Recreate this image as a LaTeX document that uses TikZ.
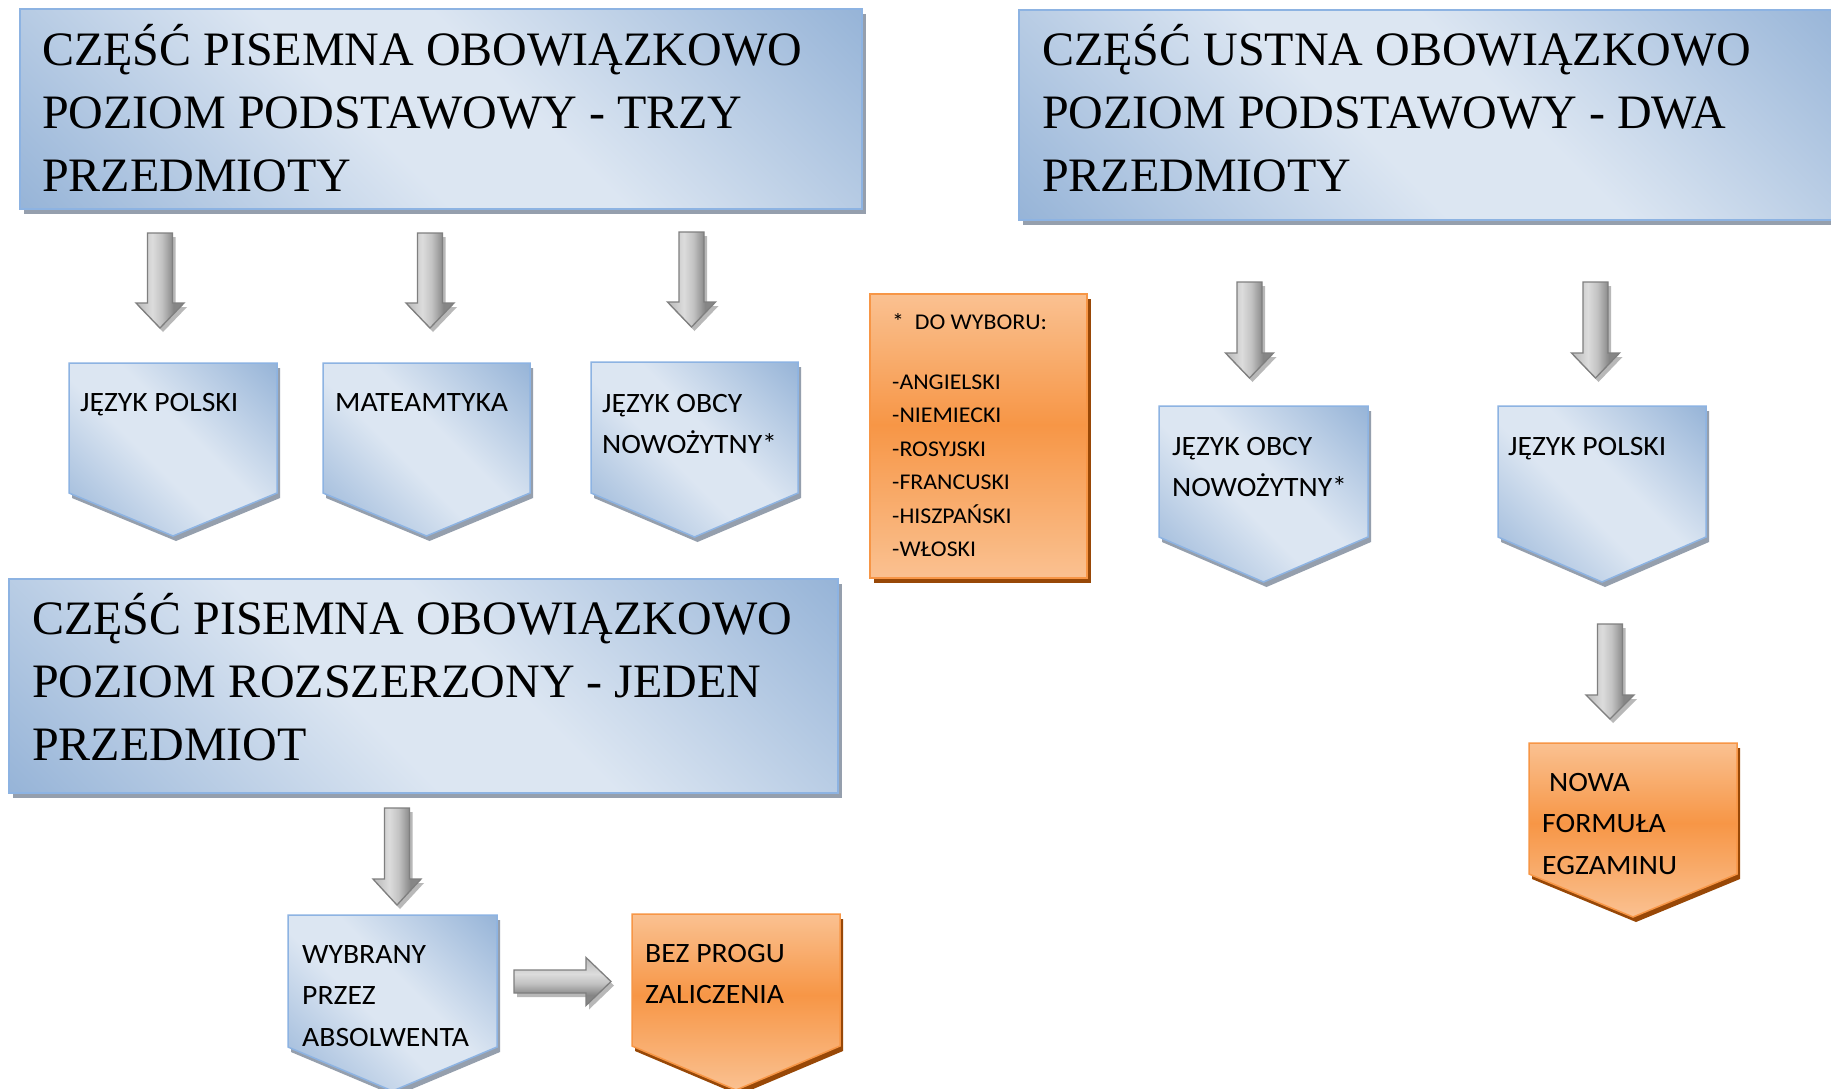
\documentclass[tikz,border=0pt]{standalone}
\usepackage{fontspec}
\newfontfamily\serifT{Liberation Serif}
\newfontfamily\sansT[FakeStretch=1.06]{Carlito}
\definecolor{bluedk}{HTML}{95B3D7}
\definecolor{bluelt}{HTML}{DCE6F2}
\definecolor{blueline}{HTML}{8DB3E2}
\definecolor{blueshade}{HTML}{959FAD}
\definecolor{orlt}{HTML}{FAC191}
\definecolor{ordk}{HTML}{F79646}
\definecolor{orline}{HTML}{F79646}
\definecolor{orshade}{HTML}{984807}
\definecolor{grlt}{HTML}{DCDCDC}
\definecolor{grmd}{HTML}{C2C2C2}
\definecolor{grdk}{HTML}{868686}
\definecolor{grline}{HTML}{7F7F7F}
\definecolor{grshade}{HTML}{B8B8B8}
\pgfdeclarehorizontalshading{bluediag}{100bp}{color(0bp)=(bluedk); color(14bp)=(bluedk); color(44bp)=(bluelt); color(56bp)=(bluelt); color(86bp)=(bluedk); color(100bp)=(bluedk)}
\pgfdeclareverticalshading{orangev}{100bp}{color(0bp)=(orlt); color(25bp)=(orlt); color(52bp)=(ordk); color(75bp)=(orlt); color(100bp)=(orlt)}
\pgfdeclarehorizontalshading{grayh}{100bp}{color(0bp)=(grmd); color(30bp)=(grmd); color(42bp)=(grlt); color(52bp)=(grmd); color(64bp)=(grdk); color(100bp)=(grdk)}
\tikzset{
  blueshadow/.style={fill=blueshade},
  blueshape/.style={shade, shading=bluediag, shading angle=45, draw=blueline, line width=1.5pt},
  orangeshadow/.style={fill=orshade},
  orangeshape/.style={shade, shading=orangev, draw=orline, line width=1.5pt},
  grayarrow/.style={shade, shading=grayh, draw=grline, line width=1.3pt, line join=miter},
  grayshadow/.style={fill=grshade},
  titletext/.style={anchor=north west, inner sep=0pt, align=left, font=\serifT\fontsize{48}{63}\selectfont},
  bodytext/.style={anchor=north west, inner sep=0pt, align=left, font=\sansT\fontsize{28}{41.5}\selectfont},
  listtext/.style={anchor=north west, inner sep=0pt, align=left, font=\sansT\fontsize{22.5}{33.5}\selectfont}
}
% pentagon: style, x1, x2, ytop, yside, ytip
\newcommand{\drawpent}[6]{%
  \fill[#1shadow, shift={(3,5)}] (#2,#4) -- (#3,#4) -- (#3,#5) -- ({(#2+#3)/2},#6) -- (#2,#5) -- cycle;
  \path[#1shape] (#2,#4) -- (#3,#4) -- (#3,#5) -- ({(#2+#3)/2},#6) -- (#2,#5) -- cycle;
}
% rectangle: style, x1, y1, x2, y2
\newcommand{\drawbox}[5]{%
  \fill[#1shadow, shift={(4,5)}] (#2,#3) rectangle (#4,#5);
  \path[#1shape] (#2,#3) rectangle (#4,#5);
}
% down arrow: cx, ytop, yhead, ytip
\newcommand{\arrowdown}[4]{%
  \fill[grayshadow, shift={(3,4)}] ({#1-12.5},#2) -- ({#1+12.5},#2) -- ({#1+12.5},#3) -- ({#1+24},#3) -- (#1,#4) -- ({#1-24},#3) -- ({#1-12.5},#3) -- cycle;
  \path[grayarrow] ({#1-12.5},#2) -- ({#1+12.5},#2) -- ({#1+12.5},#3) -- ({#1+24},#3) -- (#1,#4) -- ({#1-24},#3) -- ({#1-12.5},#3) -- cycle;
}
% right arrow: xleft, cy, xhead, xtip
\newcommand{\arrowright}[4]{%
  \fill[grayshadow, shift={(3,4)}] (#1,{#2-11.5}) -- (#3,{#2-11.5}) -- (#3,{#2-24}) -- (#4,#2) -- (#3,{#2+24}) -- (#3,{#2+11.5}) -- (#1,{#2+11.5}) -- cycle;
  \path[grayarrow, shading angle=-90] (#1,{#2-11.5}) -- (#3,{#2-11.5}) -- (#3,{#2-24}) -- (#4,#2) -- (#3,{#2+24}) -- (#3,{#2+11.5}) -- (#1,{#2+11.5}) -- cycle;
}
\begin{document}
\begin{tikzpicture}[x=1pt, y=-1pt]
\useasboundingbox (0,0) rectangle (1831,1088);
\fill[white] (0,0) rectangle (1831,1088);

% title boxes
\drawbox{blue}{20}{9}{862}{209}
\drawbox{blue}{1019}{10}{1850}{220}
\drawbox{blue}{9}{579}{838}{793}

% orange list box
\drawbox{orange}{870}{294}{1087}{578}

% arrows
\arrowdown{160}{233}{303}{328}
\arrowdown{430}{233}{303}{328}
\arrowdown{691.5}{232}{302}{327}
\arrowdown{1249.5}{282}{353}{378}
\arrowdown{1595.5}{282}{353}{378}
\arrowdown{1610}{624}{695}{719}
\arrowdown{397}{808}{879}{905}
\arrowright{514}{981.5}{586}{611}

% pentagons
\drawpent{blue}{69}{277}{363}{493}{536}
\drawpent{blue}{323}{530}{363}{493}{536}
\drawpent{blue}{591}{798}{362}{493}{537}
\drawpent{blue}{1159}{1368}{406}{537}{582}
\drawpent{blue}{1498}{1706}{406}{537}{582}
\drawpent{orange}{1529}{1737}{743}{874}{917}
\drawpent{blue}{288}{497}{915}{1047}{1091}
\drawpent{orange}{632}{840}{914}{1046}{1090}

% texts
\node[titletext] (t1) at (42,15) {\rule{0pt}{50pt}CZĘŚĆ PISEMNA OBOWIĄZKOWO\\POZIOM PODSTAWOWY - TRZY\\PRZEDMIOTY};
\node[titletext] (t2) at (1042,15) {\rule{0pt}{50pt}CZĘŚĆ USTNA OBOWIĄZKOWO\\POZIOM PODSTAWOWY - DWA\\PRZEDMIOTY};
\node[titletext] (t3) at (32,584) {\rule{0pt}{50pt}CZĘŚĆ PISEMNA OBOWIĄZKOWO\\POZIOM ROZSZERZONY - JEDEN\\PRZEDMIOT};

\node[listtext] (lst) at (892,303) {\rule{0pt}{26pt}*\ \ DO WYBORU:\\[26.5pt]-ANGIELSKI\\-NIEMIECKI\\-ROSYJSKI\\-FRANCUSKI\\-HISZPAŃSKI\\-WŁOSKI};

\node[bodytext] (p1) at (80,381) {\rule{0pt}{30pt}JĘZYK POLSKI};
\node[bodytext] (p2) at (335,381) {\rule{0pt}{30pt}MATEAMTYKA};
\node[bodytext] (p3) at (602,382) {\rule{0pt}{30pt}JĘZYK OBCY\\NOWOŻYTNY*};
\node[bodytext] (p4) at (1172,425) {\rule{0pt}{30pt}JĘZYK OBCY\\NOWOŻYTNY*};
\node[bodytext] (p5) at (1508,425) {\rule{0pt}{30pt}JĘZYK POLSKI};
\node[bodytext] (p6) at (1542,761) {\rule{0pt}{30pt}\hspace*{7pt}NOWA\\FORMUŁA\\EGZAMINU};
\node[bodytext] (p7) at (302,933) {\rule{0pt}{30pt}WYBRANY\\PRZEZ\\ABSOLWENTA};
\node[bodytext] (p8) at (645,932) {\rule{0pt}{30pt}BEZ PROGU\\ZALICZENIA};
\end{tikzpicture}
\end{document}
